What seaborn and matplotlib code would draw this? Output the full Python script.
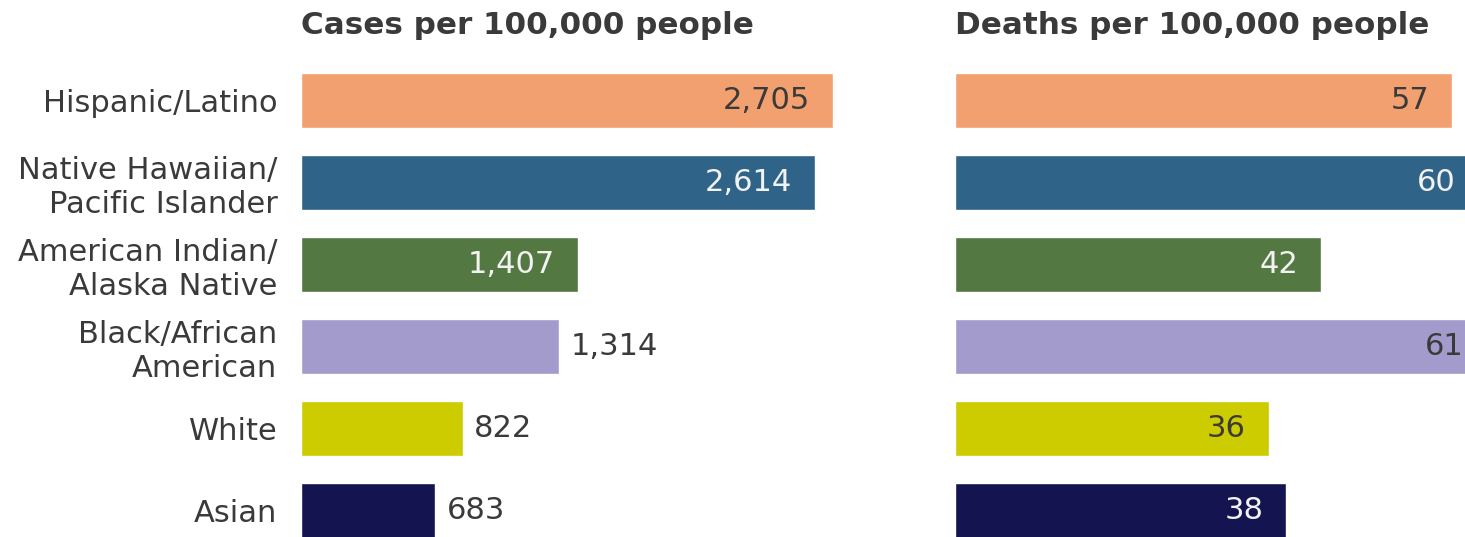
import pandas as pd
import matplotlib.pyplot as plt
import seaborn as sns

# Rates by race/ethnicity
groups = ["Hispanic/Latino", "Native Hawaiian/\nPacific Islander", "American Indian/\nAlaska Native",
          "Black/African\nAmerican", "White", "Asian"]
cases = [2705, 2614, 1407, 1314, 822, 683]
deaths = [57, 60, 42, 61, 36, 38]
colors = ["#F3A070", "#2F6488", "#537842", "#A29BCB", "#CCCC00", "#131450"]
dark_text = [False, True, True, False, False, True]

TEXT = "#3a3a3a"


def draw_panel(ax, values, title, fmt, xmax, show_labels):
    """Draws one horizontal bar panel with value labels."""
    df = pd.DataFrame({"group": groups, "value": values})
    sns.barplot(data=df, x="value", y="group", hue="group", palette=colors,
                orient="h", width=0.67, legend=False, ax=ax, saturation=1)

    ax.set_xlim(0, xmax)
    ax.set_ylim(5.5, -0.5)
    ax.set_xlabel("")
    ax.set_ylabel("")
    ax.set_xticks([])
    sns.despine(ax=ax, left=True, bottom=True)
    ax.tick_params(axis="y", length=0, pad=17, labelsize=22, labelcolor=TEXT)
    if not show_labels:
        ax.set_yticklabels([])

    vmax = max(values)
    for i, v in enumerate(values):
        if v > 0.5 * vmax:
            col = "#F2F2F2" if dark_text[i] else TEXT
            ax.annotate(fmt.format(v), (v, i), xytext=(-16.5, 0), textcoords="offset points",
                        ha="right", va="center", fontsize=22, color=col)
        else:
            ax.annotate(fmt.format(v), (v, i), xytext=(8, 0), textcoords="offset points",
                        ha="left", va="center", fontsize=22, color=TEXT)

    ax.text(0, 1.069, title, transform=ax.transAxes, ha="left", va="center",
            fontsize=22.3, fontweight="bold", color=TEXT)


sns.set_style("white")
plt.rcParams["font.family"] = ["DejaVu Sans"]

W, H = 1465, 537
fig = plt.figure(figsize=(W / 100, H / 100), dpi=100)

top, bottom = 59.5, 551.5
ax1 = fig.add_axes([301 / W, 1 - bottom / H, 559 / W, (bottom - top) / H])
ax2 = fig.add_axes([955 / W, 1 - bottom / H, 545 / W, (bottom - top) / H])

draw_panel(ax1, cases, "Cases per 100,000 people", "{:,}", 559 / (532 / 2705), True)
draw_panel(ax2, deaths, "Deaths per 100,000 people", "{}", 545 / (497 / 57), False)

fig.savefig("out.png", dpi=100)
